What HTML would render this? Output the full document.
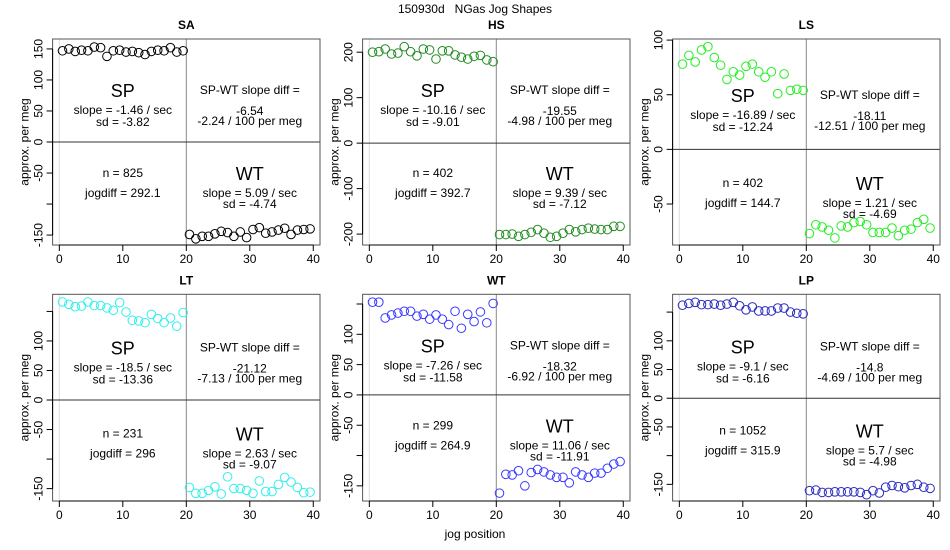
<!DOCTYPE html>
<html><head><meta charset="utf-8"><style>
body{margin:0;background:#fff;}
svg{display:block;font-family:"Liberation Sans",Arial,sans-serif;}
#mt{white-space:pre;}
</style></head><body>
<svg id="c" width="950" height="550" viewBox="0 0 950 550">
<text id="mt" x="475" y="13" font-size="12" text-anchor="middle" xml:space="preserve">150930d   NGas Jog Shapes</text>
<text x="475" y="538" font-size="12" text-anchor="middle">jog position</text>
</svg>
<script>
const panelNames = ["SA","HS","LS","LT","WT","LP"];
const panelColors = ["#000000","#228b22","#22ee22","#33eeee","#3a3aff","#2a2ac0"];
const spValues = [
 [147,150,146,148,147,153,152,138,147,148,145,146,144,141,146,148,147,152,145,147],
 [200,201,207,196,198,212,201,192,207,205,185,203,203,194,189,185,191,193,183,179],
 [78,86,80,91,94,84,77,64,71,68,76,78,71,66,71,51,69,54,55,54],
 [166,162,158,159,166,160,160,156,152,165,149,135,134,131,145,138,131,139,125,148],
 [153,153,127,132,135,138,138,130,133,125,132,125,116,138,110,133,121,137,119,151],
 [162,165,167,163,163,164,162,164,167,161,154,159,152,152,152,157,157,150,148,147]
];
const wtValues = [
 [-149,-156,-152,-152,-148,-144,-146,-152,-145,-154,-141,-138,-147,-145,-142,-139,-149,-142,-141,-140],
 [-201,-201,-200,-205,-201,-196,-190,-198,-207,-205,-198,-190,-195,-190,-187,-189,-190,-190,-183,-183],
 [-77,-69,-71,-74,-81,-70,-71,-67,-66,-69,-76,-76,-76,-72,-79,-74,-73,-67,-64,-72],
 [-148,-158,-158,-153,-147,-159,-130,-150,-150,-153,-158,-137,-155,-155,-143,-131,-139,-148,-157,-156],
 [-162,-131,-132,-125,-150,-128,-123,-127,-132,-136,-136,-145,-127,-132,-136,-129,-129,-121,-114,-110],
 [-161,-160,-164,-164,-163,-163,-163,-163,-164,-168,-161,-165,-155,-152,-154,-156,-152,-150,-155,-157]
];
const yMax = [166,229,101,179,166,181];
const yMin = [-166,-224,-87.5,-171,-175,-179];
const yTicks = [
 [150,100,50,0,-50,-100,-150],[200,100,0,-100,-200],[100,50,0,-50],
 [150,100,50,0,-50,-100,-150],[150,100,50,0,-50,-100,-150],[150,100,50,0,-50,-100,-150]
];
const yTickLabels = [
 ["150","100","50","0","-50","","-150"],["200","100","0","-100","-200"],["100","50","0","-50"],
 ["","100","50","0","-50","","-150"],["","100","50","0","-50","","-150"],["","100","50","0","-50","","-150"]
];
const xTicks = [0,10,20,30,40];
const spSlope = ["-1.46","-10.16","-16.89","-18.5","-7.26","-9.1"];
const spSd = ["-3.82","-9.01","-12.24","-13.36","-11.58","-6.16"];
const wtSlope = ["5.09","9.39","1.21","2.63","11.06","5.7"];
const wtSd = ["-4.74","-7.12","-4.69","-9.07","-11.91","-4.98"];
const slopeDiff = ["-6.54","-19.55","-18.11","-21.12","-18.32","-14.8"];
const diffPer100 = ["-2.24","-4.98","-12.51","-7.13","-6.92","-4.69"];
const nVals = ["825","402","402","231","299","1052"];
const jogdiff = ["292.1","392.7","144.7","296","264.9","315.9"];
const upperDy = [0,0,5,2,0,1];
const lowerDy = [0,0,10,5,-3,2];

const svg = document.getElementById('c');
const NS = 'http://www.w3.org/2000/svg';
function mk(tag, attrs, parent){const e=document.createElementNS(NS,tag);for(const k in attrs)e.setAttribute(k,attrs[k]);(parent||svg).appendChild(e);return e;}
function txt(x,y,s,size,parent,extra){const e=mk('text',Object.assign({x:x,y:y,'font-size':size,'text-anchor':'middle'},extra||{}),parent);e.textContent=s;return e;}

const colLeft=[52.6,362.6,672.6], boxW=267.4;
const rowTop=[39,294.3], boxH=[206,206.7];
const xMin=-1.06, xMax=41.06;

panelNames.forEach((name,p)=>{
  const col=p%3,row=Math.floor(p/3);
  const L=colLeft[col],T=rowTop[row],W=boxW,H=boxH[row];
  const g=mk('g',{});
  
  
  const xs=v=>L+(v-xMin)/(xMax-xMin)*W;
  const ys=v=>T+(yMax[p]-v)/(yMax[p]-yMin[p])*H;
  mk('line',{x1:xs(0),x2:xs(0),y1:T,y2:T+H,stroke:'#dddddd','stroke-width':1},g);
  mk('line',{x1:xs(20),x2:xs(20),y1:T,y2:T+H,stroke:'#888','stroke-width':1},g);
  mk('line',{x1:L,x2:L+W,y1:ys(0),y2:ys(0),stroke:'#333','stroke-width':1},g);
  const box=mk('rect',{x:L,y:T,width:W,height:H,fill:'none',stroke:'#555','stroke-width':1},g);
  
  
  const t=txt(xs(20),T-10,name,12,g,{'font-weight':'bold'});
  
  
  const yl=txt(0,0,'approx. per meg',12,g,{transform:`translate(${L-24},${T+H/2}) rotate(-90)`});
  
  
  yTicks[p].forEach((v,i)=>{
    mk('line',{x1:L-6,x2:L,y1:ys(v),y2:ys(v),stroke:'#000'},g);
    if(yTickLabels[p][i]){
      const tl=txt(0,0,yTickLabels[p][i],12,g,{transform:`translate(${L-10},${ys(v)}) rotate(-90)`});
      
      
    }
  });
  mk('line',{x1:L,x2:L,y1:ys(yTicks[p][0]),y2:ys(yTicks[p][yTicks[p].length-1]),stroke:'#000'},g);
  mk('line',{x1:xs(0),x2:xs(40),y1:T+H,y2:T+H,stroke:'#000'},g);
  xTicks.forEach(v=>{
    mk('line',{x1:xs(v),x2:xs(v),y1:T+H,y2:T+H+6,stroke:'#000'},g);
    const xl=txt(xs(v),T+H+18,String(v),12,g);
    
    
  });
  spValues[p].forEach((v,i)=>{
    const c=mk('circle',{cx:xs(i+0.5),cy:ys(v),r:4.3,fill:'none',stroke:panelColors[p],'stroke-width':1},g);
    
    
  });
  wtValues[p].forEach((v,i)=>{
    const c=mk('circle',{cx:xs(i+20.5),cy:ys(v),r:4.3,fill:'none',stroke:panelColors[p],'stroke-width':1},g);
    
    
  });
  const u=upperDy[p],d=lowerDy[p];
  const x10=xs(10),x30=xs(30);
  let a;
  a=txt(x10,T+58+u,'SP',18,g);
  a=txt(x10,T+75+u,'slope = '+spSlope[p]+' / sec',12,g);
  a=txt(x10,T+87+u,'sd = '+spSd[p],12,g);
  a=txt(x30,T+55+u,'SP-WT slope diff =',12,g);
  a=txt(x30,T+76+u,slopeDiff[p],12,g);
  a=txt(x30,T+86+u,diffPer100[p]+' / 100 per meg',12,g);
  a=txt(x10,T+138+d,'n = '+nVals[p],12,g);
  a=txt(x10,T+158+d,'jogdiff = '+jogdiff[p],12,g);
  a=txt(x30,T+141+d,'WT',18,g);
  a=txt(x30,T+158+d,'slope = '+wtSlope[p]+' / sec',12,g);
  a=txt(x30,T+169+d,'sd = '+wtSd[p],12,g);
});
</script>
</body></html>
